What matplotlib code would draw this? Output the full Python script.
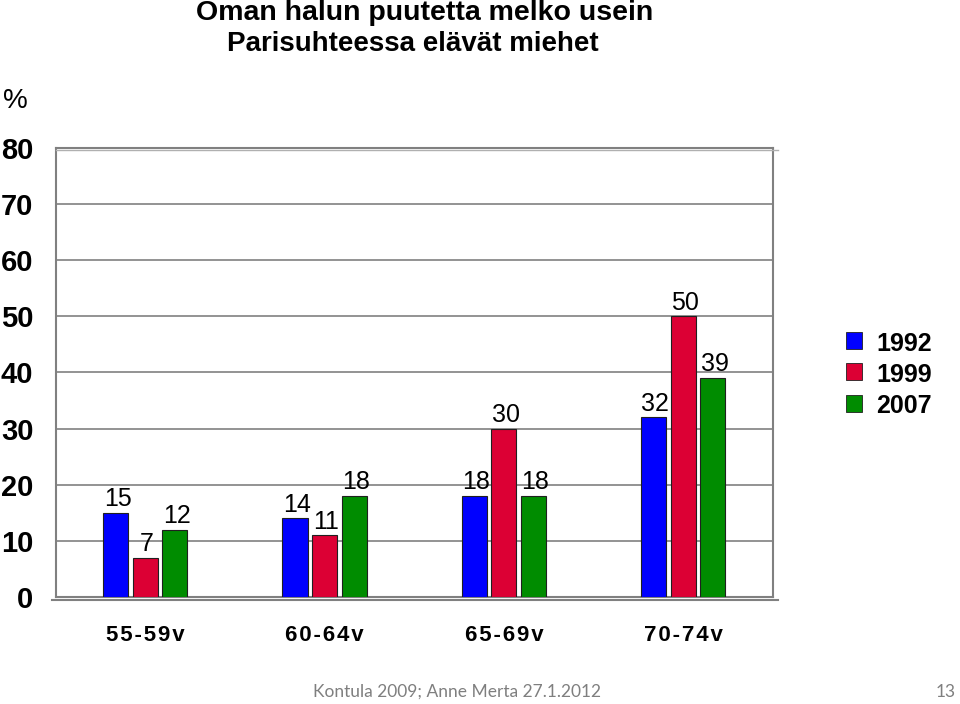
import matplotlib
matplotlib.use("Agg")
import matplotlib.pyplot as plt
import numpy as np
from matplotlib.lines import Line2D
from matplotlib.patches import Rectangle

# data
ageGroups = ["55-59v", "60-64v", "65-69v", "70-74v"]
years = ["1992", "1999", "2007"]
values1992 = [15, 14, 18, 32]
values1999 = [7, 11, 30, 50]
values2007 = [12, 18, 18, 39]
yTicks = [0, 10, 20, 30, 40, 50, 60, 70, 80]

colors = ["#0000ff", "#dc0034", "#008c00"]

plt.rcParams['font.family'] = ['Liberation Sans', 'DejaVu Sans']

fig = plt.figure(figsize=(9.6, 7.04), dpi=100)
ax = fig.add_axes([0.058, 0.152, 0.747, 0.638])

x = np.arange(len(ageGroups))
barWidth = 0.14
gap = 0.165
allValues = [values1992, values1999, values2007]
for i, vals in enumerate(allValues):
    bars = ax.bar(x + (i - 1) * gap, vals, barWidth, color=colors[i],
                  edgecolor="#202020", linewidth=0.8, zorder=3, label=years[i])
    for b, v in zip(bars, vals):
        ax.text(b.get_x() + b.get_width() / 2 + 0.01, v + 0.3, str(v),
                ha="center", va="bottom", fontsize=18, zorder=4)

ax.set_xlim(-0.5, 3.5)
ax.set_ylim(0, 80)
ax.set_yticks(yTicks)
ax.set_yticklabels([str(t) for t in yTicks], fontsize=21, fontweight="bold")
ax.tick_params(axis="y", length=0, pad=16)
ax.set_xticks(x)
# letter-spaced labels as in the original
ax.set_xticklabels(["\u200a".join(g) for g in ageGroups],
                   fontsize=16, fontweight="bold")
ax.tick_params(axis="x", length=0, pad=20)
ax.grid(axis="y", color="#808080", linewidth=1.2, zorder=0)
for s in ax.spines.values():
    s.set_color("#808080")
    s.set_linewidth(1.5)

# double line look at bottom and top of frame
fig.add_artist(Line2D([0.054, 0.81], [0.148, 0.148], color="#808080", lw=1.5))
fig.add_artist(Line2D([0.058, 0.81], [0.787, 0.787], color="#b0b0b0", lw=1.0))

fig.text(0.003, 0.857, "%", fontsize=20, ha="left", va="center")

fig.text(0.442, 0.981, "Oman halun puutetta melko usein", ha="center",
         va="center", fontsize=20.5, fontweight="bold")
fig.text(0.43, 0.937, "Parisuhteessa elävät miehet", ha="center",
         va="center", fontsize=20, fontweight="bold")

# legend
legY = [0.516, 0.472, 0.427]
for i in range(len(years)):
    fig.add_artist(Rectangle((0.881, legY[i] - 0.012), 0.017, 0.024,
                             transform=fig.transFigure, facecolor=colors[i],
                             edgecolor="#202020", lw=0.6))
    fig.text(0.913, legY[i] - 0.004, years[i], fontsize=18, fontweight="bold",
             ha="left", va="center")

fig.text(0.326, 0.017, "Kontula 2009; Anne Merta 27.1.2012", color="#7f7f7f",
         fontsize=12.5, family=["Lato", "DejaVu Sans"], ha="left", va="center")
fig.text(0.996, 0.017, "13", color="#7f7f7f", fontsize=12.5,
         family=["Lato", "DejaVu Sans"], ha="right", va="center")

fig.savefig("out.png", dpi=100)
